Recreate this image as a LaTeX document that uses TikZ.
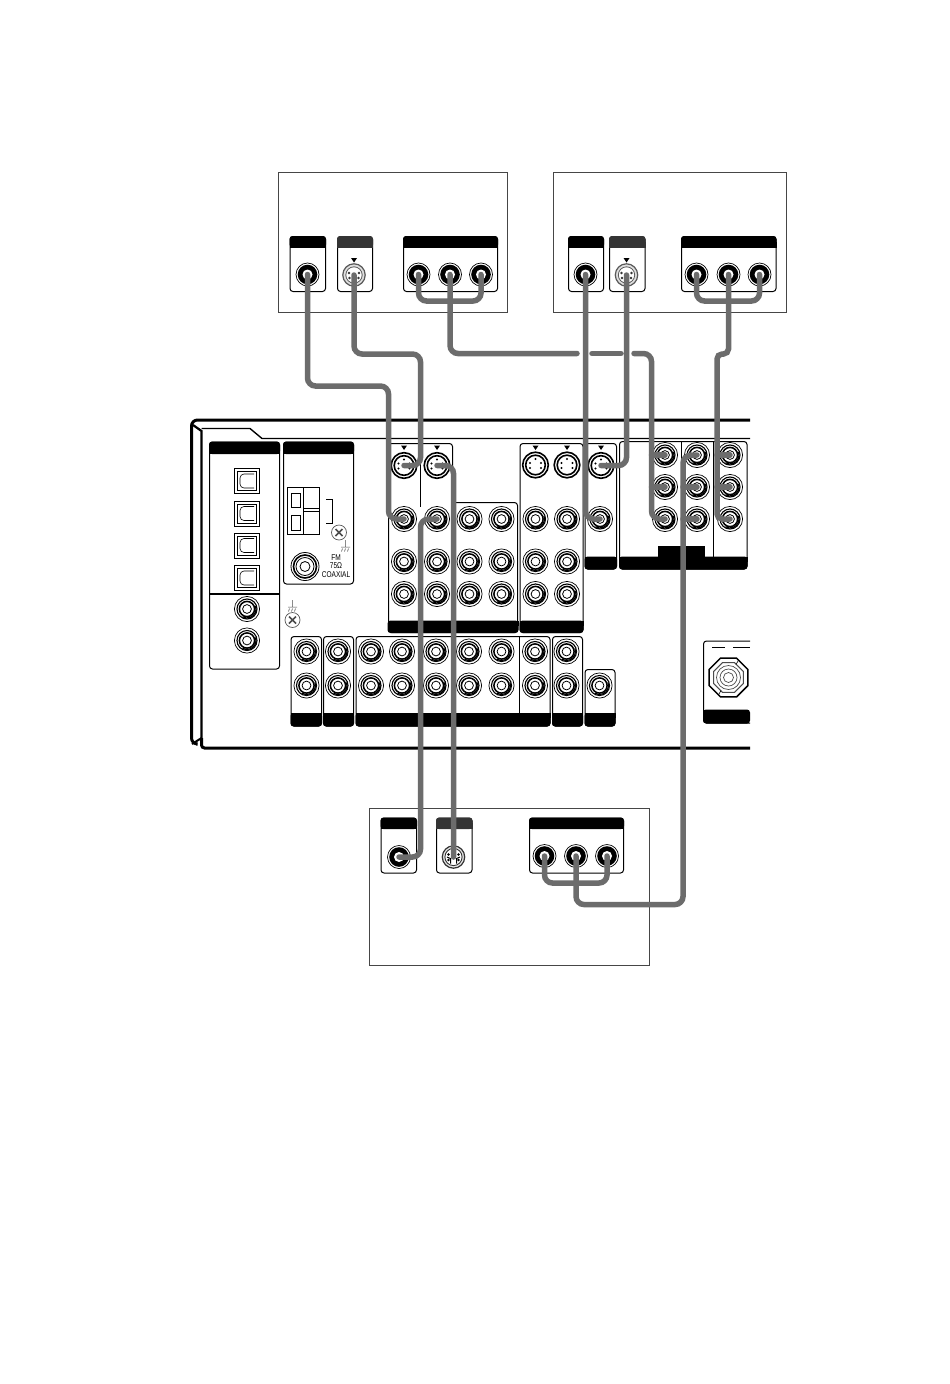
\documentclass[tikz,border=0pt]{standalone}
\usepackage{fontspec}
\setmainfont{Liberation Sans}
\definecolor{cablegray}{RGB}{108,108,108}
\definecolor{framegray}{RGB}{70,70,70}
\definecolor{headgray}{RGB}{52,52,52}
\tikzset{
    cable/.style={line width=5.5pt, color=cablegray, line cap=round, rounded corners=8pt},
    devframe/.style={draw=framegray, line width=1pt},
    panelbox/.style={draw, line width=1pt, fill=white, rounded corners=3pt},
    rcajack/.pic={
        \draw[fill=white, line width=.7pt] (0,0) circle (12.6);
        \draw[line width=1.1pt] (0,0) circle (10);
        \draw[line width=1.5pt] (0,0) circle (7.6);
        \draw[line width=1.2pt] (-20:9) arc (-20:120:9);
        \draw[fill=white, line width=.8pt] (0,0) circle (4.4);
    },
    devjack/.pic={
        \draw[fill=white, line width=.7pt] (0,0) circle (11.5);
        \fill[black] (0,0) circle (9.8);
        \fill[white] (0,0) circle (5);
    },
    sjack/.pic={
        \draw[fill=white, line width=1.6pt] (0,0) circle (12.8);
        \draw[line width=1.6pt] (0,0) circle (9.8);
        \foreach \px/\py in {0/-6,-5.5/-2,5.5/-2,-5.5/3,5.5/3}
            \fill (\px,\py) circle (1.1);
    },
    devsjack/.pic={
        \draw[fill=gray!25, draw=gray!70!black, line width=1.2pt] (0,0) circle (11.2);
        \draw[fill=white, draw=gray!70!black, line width=.8pt] (0,0) circle (8.2);
        \foreach \px/\py in {-5/-2,5/-2,-4.5/3,4.5/3}
            \fill[gray!40!black] (\px,\py) circle (1.4);
    },
    devsjackb/.pic={
        \draw[fill=gray!20, draw=gray!40!black, line width=1.2pt] (0,0) circle (11.2);
        \draw[fill=white, draw=gray!40!black, line width=.9pt] (0,0) circle (8.6);
        \draw[line width=1pt] (-6.5,0) -- (-3,1.5) -- (-3,6.5) (6.5,0) -- (3,1.5) -- (3,6.5);
        \foreach \px/\py in {-5/-2.5,5/-2.5,-5/3,5/3}
            \fill (\px,\py) circle (1.3);
    },
    screw/.pic={
        \draw[fill=white, line width=.7pt, draw=gray!70!black] (0,0) circle (7.5);
        \draw[line width=1.6pt, draw=gray!60!black] (-3.5,-3.5) -- (3.5,3.5) (-3.5,3.5) -- (3.5,-3.5);
    },
    earth/.pic={
        \draw[line width=.5pt, draw=gray!60!black] (0,-7) -- (0,0) (-4.5,0) -- (4.5,0) (-3,1.5) -- (-4,4.5) (0,1.5) -- (-1,4.5) (3,1.5) -- (2,4.5);
    }
}
\begin{document}
\begin{tikzpicture}[x=1pt, y=-1pt]
    \useasboundingbox (0,0) rectangle (950,1384);
    \fill[white] (0,0) rectangle (950,1384);

    % Aparatos externos
    \draw[devframe] (278.5,172) rectangle (507.5,312);
    \draw[devframe] (553.5,172) rectangle (786.5,312);
    \draw[devframe] (369.5,808.5) rectangle (649.5,965);

    % Paneles de los aparatos
    \foreach \xa/\xb/\yt/\hc in {290/325.5/236.5/black, 337.5/372.5/236.5/headgray, 403.5/497.5/236.5/black,
        568.5/603.5/236.5/black, 609.5/645/236.5/headgray, 681.5/776/236.5/black,
        381/416.5/818/black, 436.5/472/818/headgray, 529.5/623.5/818/black} {
        \draw[panelbox] (\xa,\yt) rectangle (\xb,\yt+55);
        \fill[\hc, rounded corners=3pt] (\xa-.5,\yt-.5) rectangle (\xb+.5,\yt+11);
        \fill[\hc] (\xa-.5,\yt+5) rectangle (\xb+.5,\yt+11);
    }

    % Chasis del receptor
    \draw[line width=3pt, rounded corners=6pt] (750,420) -- (191.5,420) -- (191.5,744) -- (196,744);
    \draw[line width=3pt, rounded corners=3pt] (201.5,738) -- (201.5,748) -- (750,748);
    \draw[line width=2.2pt] (193,425) -- (201.5,431) -- (201.5,740);
    \draw[line width=1.4pt] (201.5,428.5) -- (250,428.5) -- (262,438.5) -- (750,438.5);
    \draw[line width=2pt] (192,744) -- (201.5,738);

    % Bloque digital
    \draw[panelbox] (209.5,442) rectangle (279.5,669);
    \fill[rounded corners=3pt] (209,441.5) rectangle (280,454);
    \fill (209,447) rectangle (280,454);
    \draw[line width=1.2pt] (209.5,594) -- (279.5,594);
    \foreach \y in {481,513.5,545.5,578} {
        \draw[line width=1pt] (234.5,\y-12.5) rectangle (259.5,\y+12.5);
        \draw[line width=.8pt] (237.5,\y-9.5) rectangle (256.5,\y+9.5);
        \draw[line width=.6pt, rounded corners=4pt] (254,\y-7) -- (240,\y-7) -- (240,\y+7) -- (254,\y+7);
    }

    % Bloque de antena
    \draw[panelbox] (283.5,442) rectangle (353.5,584);
    \fill[rounded corners=3pt] (283,441.5) rectangle (354,454);
    \fill (283,447) rectangle (354,454);
    \draw[line width=1pt] (287.5,487.5) rectangle (319.5,534);
    \draw[line width=1pt] (303.5,487.5) -- (303.5,534) (303.5,508) -- (319.5,508) (303.5,511) -- (319.5,511);
    \draw[line width=.8pt] (291,493.5) rectangle (300,507) (291,515) rectangle (300,530);
    \draw[line width=.8pt] (326,499.5) -- (332.5,499.5) -- (332.5,523.5) -- (326,523.5);
    \pic at (339,532.5) {screw};
    \pic at (345.5,547) {earth};
    \pic at (292.5,620) {screw};
    \pic at (292.5,607) {earth};
    \draw[fill=white, line width=.8pt] (305,566.5) circle (14);
    \draw[line width=1.6pt] (305,566.5) circle (11.5);
    \draw[line width=.8pt] (305,566.5) circle (9);
    \draw[line width=.8pt] (305,566.5) circle (5);
    \node[font=\fontsize{8.4}{8.6}\selectfont, align=center, inner sep=0pt, xscale=.78] (fmlabel) at (336,566) {FM\\75Ω\\COAXIAL};

    % Bloques con barra inferior
    \draw[panelbox] (388.5,443.5) -- (452.5,443.5) -- (452.5,502.5) -- (517.5,502.5) -- (517.5,632.5) -- (388.5,632.5) -- cycle;
    \draw[line width=1pt] (420.5,443.5) -- (420.5,507);
    \foreach \xa/\xb/\yb/\yc in {388/518/620.5/632.5, 520/583/620.5/632.5, 585/616.5/556.5/569,
        619.5/747/556.5/569, 291/321.5/713/726, 323.5/353.5/713/726, 356/550/713/726,
        552.5/582.5/713/726, 585/615/713/726} {
        \fill[rounded corners=3pt] (\xa-.5,\yb) rectangle (\xb+.5,\yc+.5);
        \fill (\xa-.5,\yb) rectangle (\xb+.5,\yb+5);
    }
    \foreach \xa/\xb/\ya/\yc in {520/583/443.5/632.5, 585/616.5/443.5/569, 619.5/747/441.5/569,
        291/321.5/636.5/726, 323.5/353.5/636.5/726, 356/550/636.5/726,
        552.5/582.5/636.5/726, 585/615/669.5/726}
        \draw[line width=1pt, rounded corners=3pt] (\xa,\ya) rectangle (\xb,\yc);
    \draw[line width=1pt] (681,441.5) -- (681,557) (713.5,441.5) -- (713.5,557) (519.5,636.5) -- (519.5,713);
    \fill (657.5,546) rectangle (704.5,557);

    % Bloque de antena AM
    \draw[line width=1pt, rounded corners=3pt] (750,641) -- (703.5,641) -- (703.5,723) -- (750,723);
    \draw[line width=.8pt] (712,647.5) -- (725,647.5) (733,647.5) -- (750,647.5);
    \fill[rounded corners=3pt] (703,709.5) -- (750,709.5) -- (750,723.5) -- (703,723.5) -- cycle;
    \begin{scope}[shift={(728.5,677.5)}]
        \draw[line width=1.5pt, fill=white] (22.5:21) \foreach \a in {67.5,112.5,...,337.5} {-- (\a:21)} -- cycle;
        \draw[line width=1pt, draw=gray!60!black] (22.5:16) \foreach \a in {67.5,112.5,...,337.5} {-- (\a:16)} -- cycle;
        \draw[line width=.6pt] (-60:15) -- (-60:20) (120:15) -- (120:20);
        \foreach \r in {12,8.5,5}
            \draw[line width=.7pt, draw=gray!60!black] (0,0) circle (\r);
    \end{scope}

    % Conectores del receptor
    \foreach \x in {404,437,469.5,501.5,535.5,567}
        \foreach \y in {561.5,594}
            \pic at (\x,\y) {rcajack};
    \foreach \x in {469.5,501.5,535.5,567}
        \pic at (\x,519) {rcajack};
    \foreach \x in {306.5,338,371,402,436,469,501.5,535,566.5}
        \foreach \y in {651.5,685.5}
            \pic at (\x,\y) {rcajack};
    \pic at (599.5,685.5) {rcajack};
    \pic at (247,609) {rcajack};
    \pic at (247,640.5) {rcajack};
    \foreach \x in {535.5,567}
        \pic at (\x,465) {sjack};
    \foreach \x in {404,437,535.5,567,601}
        \fill (\x-3,445.5) -- (\x+3,445.5) -- (\x,450) -- cycle;

    % Conectores con nombre
    \foreach \jackname/\x/\y in {invideoa/404/519, invideob/437/519, invideoc/600/519,
        incompa/665/455, incompb/665/487, incompc/665/519,
        incompd/697/455, incompe/697/487, incompf/697/519,
        incompg/730/455, incomph/730/487, incompi/730/519} {
        \coordinate (\jackname) at (\x,\y);
        \pic at (\jackname) {rcajack};
    }
    \foreach \jackname/\x/\y in {insa/404/465.5, insb/437/465.5, insc/601/465.5} {
        \coordinate (\jackname) at (\x,\y);
        \pic at (\jackname) {sjack};
    }
    \foreach \jackname/\x/\y in {videoa/307.5/274.5, compaa/418.5/274.5, compab/450/274.5, compac/481/274.5,
        videob/585.5/274.5, compba/696.5/274.5, compbb/728.5/274.5, compbc/759.5/274.5,
        videoc/399/857, compca/544.5/856, compcb/576/856, compcc/607/856} {
        \coordinate (\jackname) at (\x,\y);
        \pic at (\jackname) {devjack};
    }
    \foreach \jackname/\x/\y in {sa/354/275, sb/626.5/275} {
        \coordinate (\jackname) at (\x,\y);
        \pic at (\jackname) {devsjack};
    }
    \coordinate (sc) at (453.5,857);
    \pic at (sc) {devsjackb};
    \foreach \x/\y in {354/260, 626.5/260}
        \fill (\x-3,\y-2) -- (\x+3,\y-2) -- (\x,\y+2.5) -- cycle;

    % Cables de video
    \coordinate (bendva) at (388.5,386);
    \coordinate (bendvc) at (420.5,519);
    \draw[cable] (videoa) |- (bendva) |- (invideoa);
    \draw[cable] (videob) |- (invideoc);
    \draw[cable] (videoc) -| (bendvc) -- (invideob);

    % Cables S-video
    \coordinate (bendsa) at (420.5,354);
    \coordinate (bendsc) at (453.5,465.5);
    \draw[cable] (sa) |- (bendsa) |- (insa);
    \draw[cable] (sb) |- (insc);
    \draw[cable] (sc) -- (bendsc) -- (insb);

    % Cables de componentes - aparato A
    \coordinate (brancha) at (450,301);
    \coordinate (gapa) at (577,353.5);
    \coordinate (gapb) at (592,353.5);
    \coordinate (gapc) at (621,353.5);
    \coordinate (gapd) at (634,353.5);
    \coordinate (bendca) at (651.5,519);
    \draw[cable] (compaa) |- (brancha) -| (compac);
    \draw[cable] (compab) |- (gapa);
    \draw[cable] (gapb) -- (gapc);
    \draw[cable] (gapd) -| (bendca) -- (incompc);
    \draw[cable, rounded corners=0pt] (651.5,455) -- (incompa);
    \draw[cable, rounded corners=0pt] (651.5,487) -- (incompb);

    % Cables de componentes - aparato B
    \coordinate (branchb) at (728.5,301);
    \coordinate (jogb) at (728.5,354);
    \coordinate (jogc) at (717,354);
    \coordinate (bendcb) at (717,519);
    \draw[cable] (compba) |- (branchb) -| (compbc);
    \draw[cable, rounded corners=5pt] (compbb) -- (jogb) -- (jogc) -- (bendcb) -- (incompi);
    \draw[cable, rounded corners=0pt] (717,455) -- (incompg);
    \draw[cable, rounded corners=0pt] (717,487) -- (incomph);

    % Cables de componentes - aparato C
    \coordinate (branchc) at (576,883);
    \coordinate (bendcc) at (683,904.5);
    \draw[cable] (compca) |- (branchc) -| (compcc);
    \draw[cable] (compcb) |- (bendcc) |- (incompd);
    \draw[cable, rounded corners=0pt] (683,487) -- (incompe);
    \draw[cable, rounded corners=0pt] (683,519) -- (incompf);
\end{tikzpicture}
\end{document}
